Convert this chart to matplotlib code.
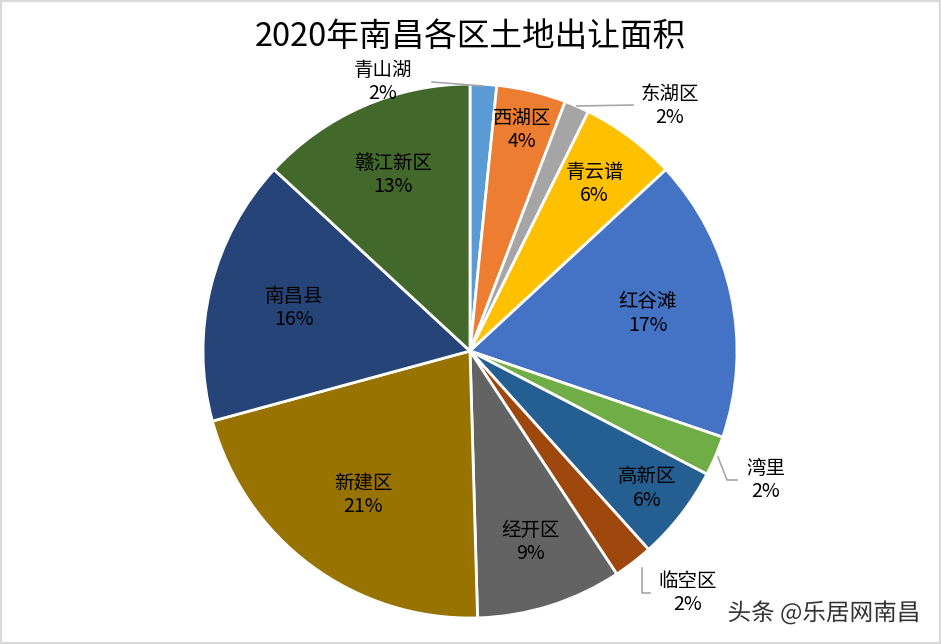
import matplotlib
matplotlib.use("Agg")
import matplotlib.pyplot as plt
import matplotlib.patheffects as pe
import numpy as np

plt.rcParams['font.family'] = ['Noto Sans CJK SC', 'DejaVu Sans']

title = "2020年南昌各区土地出让面积"
districts = ["青山湖", "西湖区", "东湖区", "青云谱", "红谷滩", "湾里",
             "高新区", "临空区", "经开区", "新建区", "南昌县", "赣江新区"]
shares = [1.6, 4.2, 1.5, 5.8, 17.1, 2.4, 5.7, 2.4, 8.8, 21.2, 16.1, 13.1]
pct_labels = ["2%", "4%", "2%", "6%", "17%", "2%", "6%", "2%", "9%", "21%", "16%", "13%"]
colors = ["#5B9BD5", "#ED7D31", "#A5A5A5", "#FFC000", "#4472C4", "#70AD47",
          "#255E91", "#9E480E", "#636363", "#997300", "#264478", "#43682B"]

W, H = 941, 644
CX, CY, R = 470, 351, 267

def px(x, y):
    return ((x - CX) / R, (CY - y) / R)

fig = plt.figure(figsize=(W / 100, H / 100), dpi=100)
ax = fig.add_axes([0, 0, 1, 1])
wedges, _ = ax.pie(shares, colors=colors, startangle=90, counterclock=False,
                   wedgeprops=dict(edgecolor="white", linewidth=2))
ax.set_xlim((0 - CX) / R, (W - CX) / R)
ax.set_ylim((CY - H) / R, CY / R)
ax.set_aspect('equal', adjustable='datalim')
ax.axis('off')

# inside label radii (layout)
inside_r = {"西湖区": 0.85, "青云谱": 0.78, "红谷滩": 0.68, "高新区": 0.84,
            "经开区": 0.75, "新建区": 0.67, "南昌县": 0.68, "赣江新区": 0.72}
# outside labels: text position and leader polyline (pixel layout)
outside = {
    "青山湖": ((383, 82), [(432, 82), (483, 86)]),
    "东湖区": ((670, 106), [(577, 106), (633, 105)]),
    "湾里": ((766, 480), [(718, 457), (727, 480), (737, 480)]),
    "临空区": ((688, 593), [(642, 568), (642, 593), (650, 593)]),
}

fs = 14
for w, name, pl in zip(wedges, districts, pct_labels):
    ang = np.deg2rad((w.theta1 + w.theta2) / 2)
    if name in inside_r:
        r = inside_r[name]
        ax.text(r * np.cos(ang), r * np.sin(ang), f"{name}\n{pl}",
                ha="center", va="center", fontsize=fs, color="black",
                linespacing=1.15)
    else:
        (tx, ty), line = outside[name]
        x, y = px(tx, ty)
        ax.text(x, y, f"{name}\n{pl}", ha="center", va="center", fontsize=fs,
                color="black", linespacing=1.15)
        pts = np.array([px(a, b) for a, b in line])
        ax.plot(pts[:, 0], pts[:, 1], color="#A6A6A6", lw=1.2)

fig.text(470 / W, 1 - 37 / H, title, ha="center", va="center", fontsize=23.5,
         color="black")

fig.text(824 / W, 1 - 613 / H, "头条 @乐居网南昌", ha="center", va="center",
         fontsize=17, color="#333333",
         path_effects=[pe.withStroke(linewidth=3, foreground="white")])

# figure border
border = plt.Rectangle((0, 0), 1, 1, transform=fig.transFigure, fill=False,
                       edgecolor="#D9D9D9", linewidth=3)
fig.patches.append(border)

fig.savefig("out.png", dpi=100)
